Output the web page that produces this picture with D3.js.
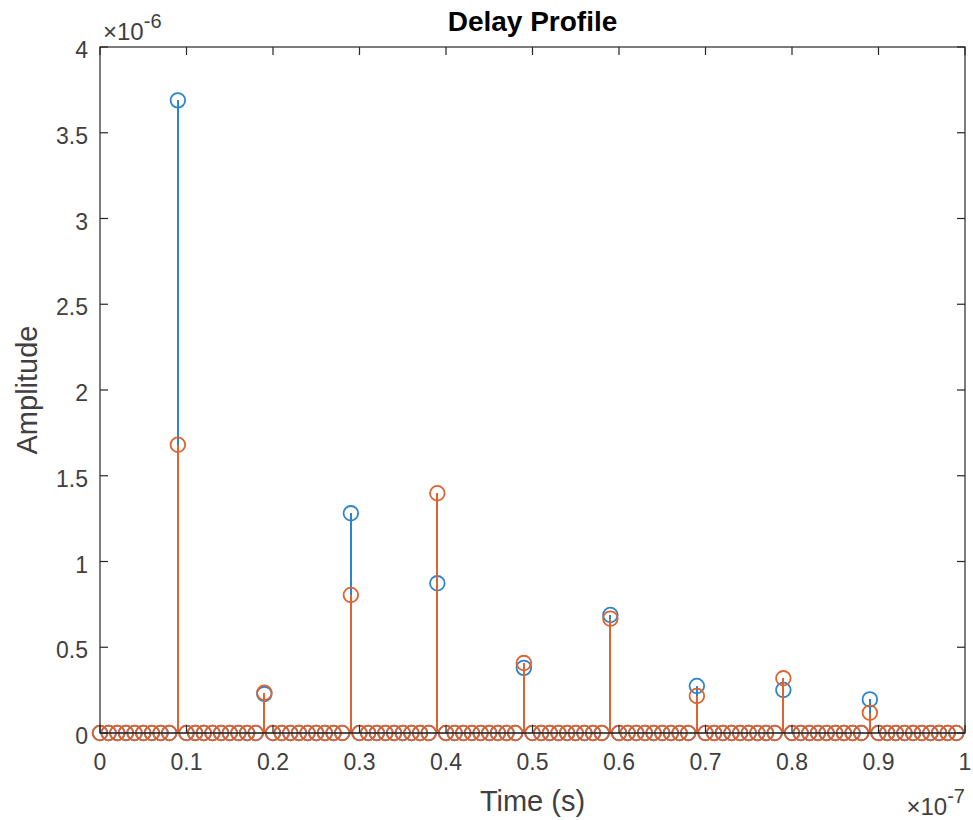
<!DOCTYPE html>
<html><head><meta charset="utf-8">
<script src="https://cdn.jsdelivr.net/npm/d3@7"></script>
<style>
body{margin:0;background:#fff}
svg text{font-family:"Liberation Sans",Arial,Helvetica,sans-serif;fill:#262626}
</style>
</head><body><svg id="c" width="973" height="820"></svg>
<script>
// Time samples (units of 1e-7 s)
const time = [
  0.00,0.01,0.02,0.03,0.04,0.05,0.06,0.07,0.08,0.09,
  0.10,0.11,0.12,0.13,0.14,0.15,0.16,0.17,0.18,0.19,
  0.20,0.21,0.22,0.23,0.24,0.25,0.26,0.27,0.28,0.29,
  0.30,0.31,0.32,0.33,0.34,0.35,0.36,0.37,0.38,0.39,
  0.40,0.41,0.42,0.43,0.44,0.45,0.46,0.47,0.48,0.49,
  0.50,0.51,0.52,0.53,0.54,0.55,0.56,0.57,0.58,0.59,
  0.60,0.61,0.62,0.63,0.64,0.65,0.66,0.67,0.68,0.69,
  0.70,0.71,0.72,0.73,0.74,0.75,0.76,0.77,0.78,0.79,
  0.80,0.81,0.82,0.83,0.84,0.85,0.86,0.87,0.88,0.89,
  0.90,0.91,0.92,0.93,0.94,0.95,0.96,0.97,0.98,0.99
];
// Amplitudes (units of 1e-6)
const seriesBlue = [
  0,0,0,0,0,0,0,0,0,3.689,
  0,0,0,0,0,0,0,0,0,0.227,
  0,0,0,0,0,0,0,0,0,1.281,
  0,0,0,0,0,0,0,0,0,0.873,
  0,0,0,0,0,0,0,0,0,0.380,
  0,0,0,0,0,0,0,0,0,0.688,
  0,0,0,0,0,0,0,0,0,0.274,
  0,0,0,0,0,0,0,0,0,0.251,
  0,0,0,0,0,0,0,0,0,0.196,
  0,0,0,0,0,0,0,0,0,0
];
const seriesOrange = [
  0,0,0,0,0,0,0,0,0,1.681,
  0,0,0,0,0,0,0,0,0,0.235,
  0,0,0,0,0,0,0,0,0,0.805,
  0,0,0,0,0,0,0,0,0,1.398,
  0,0,0,0,0,0,0,0,0,0.408,
  0,0,0,0,0,0,0,0,0,0.667,
  0,0,0,0,0,0,0,0,0,0.216,
  0,0,0,0,0,0,0,0,0,0.319,
  0,0,0,0,0,0,0,0,0,0.118,
  0,0,0,0,0,0,0,0,0,0
];
const xTicks = [0,0.1,0.2,0.3,0.4,0.5,0.6,0.7,0.8,0.9,1];
const xTickLabels = ["0","0.1","0.2","0.3","0.4","0.5","0.6","0.7","0.8","0.9","1"];
const yTicks = [0,0.5,1,1.5,2,2.5,3,3.5,4];
const yTickLabels = ["0","0.5","1","1.5","2","2.5","3","3.5","4"];

const svg = d3.select("#c");
const L = 100, R = 965, T = 47, B = 733;
const x = d3.scaleLinear().domain([0,1]).range([L,R]);
const y = d3.scaleLinear().domain([0,4]).range([B,T]);
const ink = "#262626";
const tickInk = "#404040";

function drawStems(vals, color){
  const g = svg.append("g");
  g.selectAll("line").data(time).join("line")
    .attr("x1",(d)=>x(d)).attr("x2",(d)=>x(d))
    .attr("y1",y(0)).attr("y2",(d,i)=>y(vals[i]))
    .attr("stroke",color).attr("stroke-width",2)
    .attr("shape-rendering","crispEdges");
  g.selectAll("circle").data(time).join("circle")
    .attr("cx",(d)=>x(d)).attr("cy",(d,i)=>y(vals[i]))
    .attr("r",7.3).attr("fill","none")
    .attr("stroke",color).attr("stroke-width",1.8);
}
drawStems(seriesBlue,"#2a84cf");
drawStems(seriesOrange,"#de6330");

// baseline
svg.append("line").attr("x1",L).attr("x2",R).attr("y1",y(0)).attr("y2",y(0))
  .attr("stroke",ink).attr("stroke-width",1.2);

// axes box
const ax = svg.append("g");
ax.append("rect").attr("x",L).attr("y",T).attr("width",R-L).attr("height",B-T)
  .attr("fill","none").attr("stroke",ink).attr("stroke-width",1.2);
const tl = 8;
xTicks.forEach((t,i)=>{
  ax.append("line").attr("x1",x(t)).attr("x2",x(t)).attr("y1",B).attr("y2",B-tl).attr("stroke",ink).attr("stroke-width",1.2);
  ax.append("line").attr("x1",x(t)).attr("x2",x(t)).attr("y1",T).attr("y2",T+tl).attr("stroke",ink).attr("stroke-width",1.2);
  ax.append("text").attr("x",x(t)).attr("y",B+37).attr("text-anchor","middle")
    .attr("font-size",23).style("fill",tickInk).text(xTickLabels[i]);
});
yTicks.forEach((t,i)=>{
  ax.append("line").attr("x1",L).attr("x2",L+tl).attr("y1",y(t)).attr("y2",y(t)).attr("stroke",ink).attr("stroke-width",1.2);
  ax.append("line").attr("x1",R).attr("x2",R-tl).attr("y1",y(t)).attr("y2",y(t)).attr("stroke",ink).attr("stroke-width",1.2);
  ax.append("text").attr("x",L-12).attr("y",y(t)+11).attr("text-anchor","end")
    .attr("font-size",23).style("fill",tickInk).text(yTickLabels[i]);
});

// exponent labels
const ey = svg.append("text").attr("x",L+3).attr("y",40).attr("font-size",24).style("fill",tickInk);
ey.append("tspan").text("\u00D710");
ey.append("tspan").attr("dy",-12).attr("font-size",20).text("-6");
const ex = svg.append("text").attr("x",R).attr("y",815).attr("text-anchor","end").attr("font-size",24).style("fill",tickInk);
ex.append("tspan").text("\u00D710");
ex.append("tspan").attr("dy",-12).attr("font-size",20).text("-7");

// title & labels
svg.append("text").attr("x",(L+R)/2).attr("y",31).attr("text-anchor","middle")
  .attr("font-size",28).attr("font-weight","bold").style("fill","#000").text("Delay Profile");
svg.append("text").attr("x",(L+R)/2).attr("y",811).attr("text-anchor","middle")
  .attr("font-size",29).style("fill",tickInk).text("Time (s)");
svg.append("text").attr("transform",`translate(37,${(T+B)/2}) rotate(-90)`).attr("text-anchor","middle")
  .attr("font-size",29).style("fill",tickInk).text("Amplitude");
</script>
</body></html>
